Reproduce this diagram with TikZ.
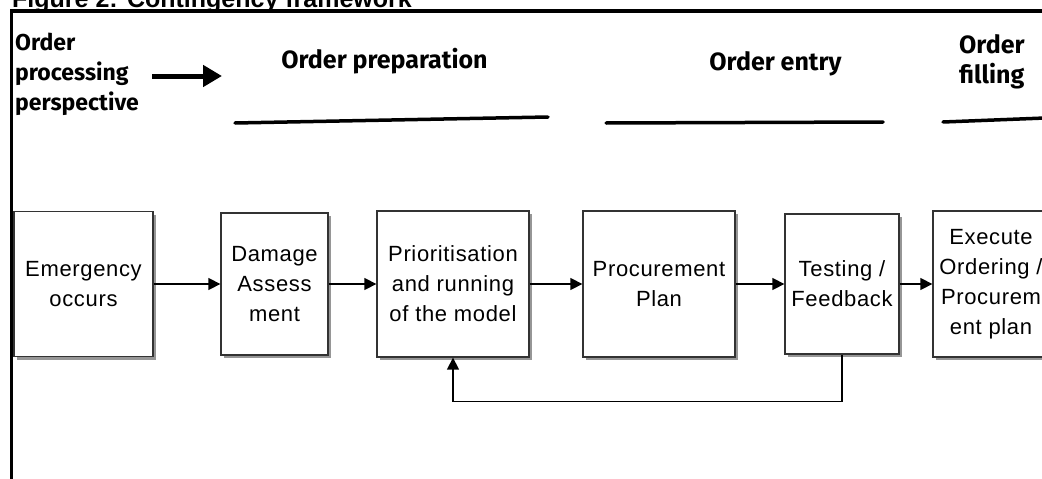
\documentclass[tikz,border=0pt]{standalone}
\usepackage{fontspec}
\setmainfont{Liberation Sans}
\newfontfamily\headfont{Fira Sans}
\newfontfamily\boxfont{Liberation Sans}[LetterSpace=3]
\usetikzlibrary{arrows.meta,shadows}

\begin{document}
\begin{tikzpicture}[x=1pt,y=-1pt,
  box/.style={draw=black!80, line width=1.3pt, fill=white, align=center,
    inner sep=0pt, font=\boxfont\fontsize{22}{30}\selectfont,
    drop shadow={shadow xshift=3pt, shadow yshift=-3pt, fill=black!55, opacity=0.75}},
  flow/.style={line width=1.4pt, -{Triangle[length=12pt,width=12pt]}},
  phase/.style={font=\headfont\bfseries\fontsize{25}{30}\selectfont, inner sep=0pt},
  rule/.style={line width=3.5pt, line cap=round},
  frame/.style={line width=3.2pt}]

\useasboundingbox (0,0) rectangle (1042,479);
\clip (0,0) rectangle (1042,479);

% caption above the framed figure
\node[anchor=base west, inner sep=0pt, font=\bfseries\fontsize{25}{25}\selectfont]
  (title) at (12,7.5) {Figure 2: Contingency framework};

% figure frame (top and left edges)
\draw[frame] (11.5,11) -- (1042,11);
\draw[frame] (11.5,9.4) -- (11.5,479);

% order processing phases (multi-line nodes sit on their last baseline)
\node[phase, anchor=base west, align=left, font=\headfont\bfseries\fontsize{23}{30}\selectfont]
  (persp) at (15,110) {Order\\processing\\perspective};
\coordinate (pa) at (152,76);
\coordinate (pb) at (222,76);
\draw[line width=5pt, -{Triangle[length=19pt,width=21pt]}] (pa) -- (pb);

\node[phase, anchor=base] (prep) at (384.5,68) {Order preparation};
\node[phase, anchor=base] (entry) at (775.5,70) {Order entry};
\node[phase, anchor=base west, align=left] (fill) at (959,83) {Order\\filling};

\draw[rule] (235,123) -- (548,117);
\draw[rule] (606,123) -- (883,122);
\draw[rule] (943,122) -- (1045,118);

% process steps
\node[box, minimum width=139pt, minimum height=145pt] (emer) at (83.5,284)
  {Emergency\\occurs};
\node[box, minimum width=107pt, minimum height=142pt] (dmg) at (274.5,284)
  {Damage\\Assess\\ment};
\node[box, minimum width=152pt, minimum height=146pt] (prio) at (453,284)
  {Prioritisation\\and running\\of the model};
\node[box, minimum width=152pt, minimum height=146pt] (plan) at (659,284)
  {Procurement\\Plan};
\node[box, minimum width=114pt, minimum height=140pt] (test) at (842,284)
  {Testing /\\Feedback};
\node[box, minimum width=116pt, minimum height=146pt] (exec) at (991,284)
  {Execute\\Ordering /\\Procurem\\ent plan};

% connectors
\draw[flow] (emer) -- (dmg);
\draw[flow] (dmg) -- (prio);
\draw[flow] (prio) -- (plan);
\draw[flow] (plan) -- (test);
\draw[flow] (test) -- (exec);
\draw[flow] (test.south) -- ++(0,47) -| (prio.south);

\end{tikzpicture}
\end{document}
